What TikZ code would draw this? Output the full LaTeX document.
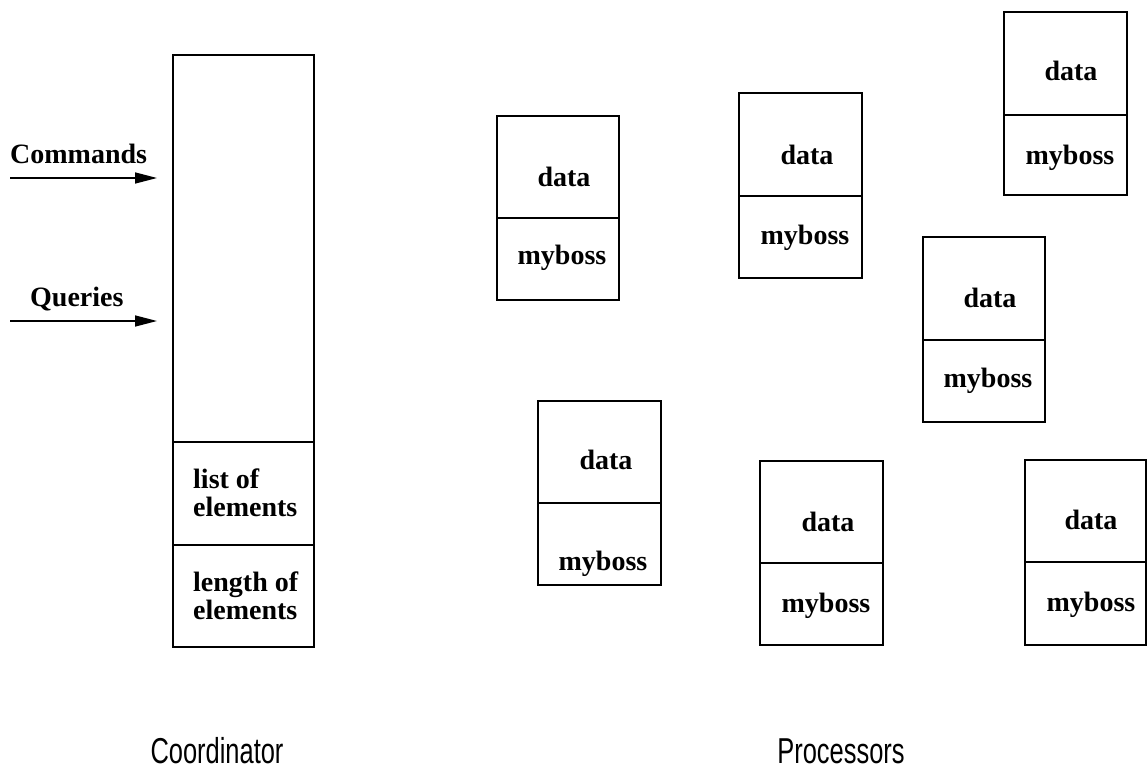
\documentclass[tikz,border=0pt]{standalone}
\usepackage{fontspec}
\setmainfont{Liberation Serif}
\newfontfamily\captionfont{Liberation Sans}
\usetikzlibrary{arrows.meta}

\tikzset{
  cell/.style={draw=black, line width=1.5bp, rectangle, inner sep=0pt, outer sep=0pt, anchor=north west},
  lbl/.style={font=\fontsize{28bp}{28bp}\selectfont\bfseries, inner sep=0pt, anchor=base},
  lblw/.style={lbl, anchor=base west},
  captext/.style={font=\fontsize{36bp}{36bp}\selectfont\captionfont, inner sep=0pt, anchor=base},
  arr/.style={line width=1.5bp, -{Triangle[length=22bp,width=11bp]}}
}

\begin{document}
\begin{tikzpicture}[x=1bp, y=-1bp]
  \useasboundingbox (0,0) rectangle (1147,772);

  % coordinator: big upper area and two lower fields
  \node[cell, minimum width=141bp, minimum height=387bp] (coord-top) at (173,55) {};
  \node[cell, minimum width=141bp, minimum height=103bp] (coord-list) at (173,442) {};
  \node[cell, minimum width=141bp, minimum height=102bp] (coord-len) at (173,545) {};

  \node[lblw] (list1) at (193,488) {list of};
  \node[lblw] (list2) at (193,516) {elements};
  \node[lblw] (len1) at (193,591) {length of};
  \node[lblw] (len2) at (193,619) {elements};

  % incoming streams
  \node[lblw] (cmd) at (10,163) {Commands};
  \node[lblw] (qry) at (30,306) {Queries};
  \coordinate (cmd-from) at (10,178);
  \coordinate (cmd-to) at (157,178);
  \coordinate (qry-from) at (10,321);
  \coordinate (qry-to) at (157,321);
  \draw[arr] (cmd-from) -- (cmd-to);
  \draw[arr] (qry-from) -- (qry-to);

  % processors: left, top, divider, bottom, right, data x/baseline, myboss x/baseline
  \foreach \n/\l/\t/\d/\b/\r/\dx/\dy/\mx/\my in {
      1/497/116/218/300/619/564/186/562/264,
      2/739/93/196/278/862/807/164/805/244,
      3/1004/12/115/195/1127/1071/81/1070/164,
      4/923/237/340/422/1045/990/307/988/387,
      5/538/401/503/585/661/606/469/603/570,
      6/760/461/563/645/883/828/531/826/612,
      7/1025/460/562/645/1146/1091/529/1091/611}{
    \pgfmathsetmacro\w{\r-\l}
    \pgfmathsetmacro\hu{\d-\t}
    \pgfmathsetmacro\hl{\b-\d}
    \node[cell, minimum width=\w bp, minimum height=\hu bp] (p\n-data) at (\l,\t) {};
    \node[cell, minimum width=\w bp, minimum height=\hl bp] (p\n-boss) at (\l,\d) {};
    \node[lbl] (p\n-dtxt) at (\dx,\dy) {data};
    \node[lbl] (p\n-btxt) at (\mx,\my) {myboss};
  }

  % captions
  \node[captext] (cap-coord) at (217,763) {\scalebox{0.707}[1]{Coordinator}};
  \node[captext] (cap-proc) at (841,763) {\scalebox{0.707}[1]{Processors}};
\end{tikzpicture}
\end{document}
